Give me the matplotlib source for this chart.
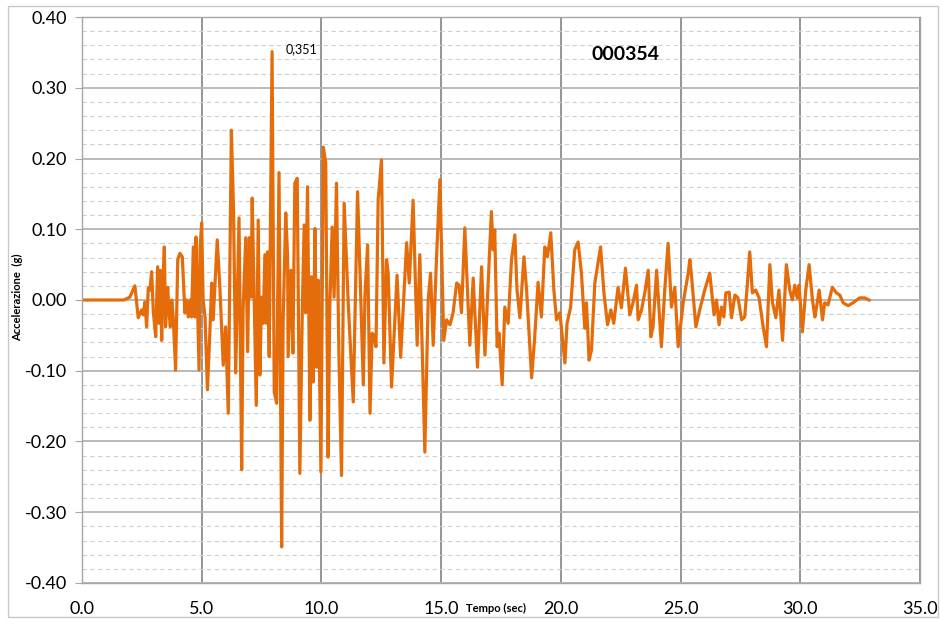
import matplotlib
matplotlib.use("Agg")
import matplotlib.pyplot as plt
from matplotlib.patches import Rectangle
from matplotlib.ticker import MultipleLocator

# accelerogramma 000354 (tempo in s, accelerazione in g)
t = [0.00, 1.75, 2.00, 2.21, 2.35, 2.49, 2.56, 2.63, 2.70, 2.77, 2.84, 2.91, 2.98, 3.08,
     3.16, 3.23, 3.27, 3.33, 3.37, 3.44, 3.49, 3.58, 3.63, 3.69, 3.75, 3.81, 3.91, 4.00,
     4.09, 4.19, 4.30, 4.37, 4.44, 4.52, 4.58, 4.65, 4.72, 4.76, 4.83, 4.89, 4.93, 5.00,
     5.06, 5.14, 5.24, 5.34, 5.42, 5.48, 5.65, 5.76, 5.90, 6.00, 6.11, 6.24, 6.33, 6.42,
     6.56, 6.67, 6.73, 6.84, 6.92, 6.99, 7.06, 7.11, 7.19, 7.28, 7.36, 7.43, 7.50, 7.57,
     7.64, 7.71, 7.75, 7.82, 7.94, 8.03, 8.13, 8.23, 8.34, 8.40, 8.51, 8.59, 8.61, 8.73,
     8.81, 8.89, 8.99, 9.10, 9.20, 9.28, 9.34, 9.42, 9.52, 9.59, 9.66, 9.73, 9.80, 9.87,
     9.98, 10.08, 10.18, 10.28, 10.35, 10.45, 10.53, 10.63, 10.73, 10.84, 10.95, 11.12,
     11.33, 11.51, 11.61, 11.75, 11.82, 11.93, 12.03, 12.12, 12.19, 12.28, 12.37, 12.51,
     12.61, 12.72, 12.79, 12.93, 13.16, 13.31, 13.56, 13.67, 13.83, 14.00, 14.11, 14.32,
     14.46, 14.56, 14.67, 14.81, 14.95, 15.11, 15.23, 15.37, 15.50, 15.65, 15.75, 15.85,
     15.99, 16.20, 16.34, 16.52, 16.69, 16.83, 17.10, 17.17, 17.24, 17.34, 17.42, 17.55,
     17.66, 17.80, 17.94, 18.08, 18.17, 18.29, 18.46, 18.57, 18.78, 18.91, 19.05, 19.19,
     19.33, 19.44, 19.58, 19.71, 19.82, 19.96, 20.17, 20.26, 20.41, 20.58, 20.72, 20.86,
     21.00, 21.07, 21.18, 21.28, 21.42, 21.66, 21.80, 21.95, 22.09, 22.21, 22.39, 22.53,
     22.70, 22.88, 23.02, 23.16, 23.23, 23.37, 23.51, 23.65, 23.76, 23.85, 24.00, 24.20,
     24.34, 24.48, 24.62, 24.76, 24.90, 25.11, 25.32, 25.39, 25.46, 25.64, 25.80, 26.01,
     26.22, 26.40, 26.50, 26.61, 26.71, 26.81, 26.89, 27.03, 27.13, 27.27, 27.40, 27.55,
     27.68, 27.78, 27.89, 28.00, 28.14, 28.28, 28.45, 28.59, 28.73, 28.84, 28.98, 29.11,
     29.26, 29.42, 29.56, 29.67, 29.77, 29.87, 29.95, 30.09, 30.23, 30.37, 30.51, 30.61,
     30.68, 30.79, 30.93, 31.02, 31.16, 31.34, 31.51, 31.65, 31.79, 32.00, 32.20, 32.48,
     32.69, 32.87]
acc = [0.000, 0.000, 0.004, 0.020, -0.025, -0.014, -0.021, -0.003, -0.038, 0.017, 0.014,
       0.040, -0.017, -0.052, 0.047, -0.033, 0.042, -0.057, 0.014, 0.075, -0.038, 0.018,
       -0.014, -0.038, 0.000, -0.024, -0.099, 0.057, 0.066, 0.061, -0.018, 0.000, -0.024,
       0.000, -0.024, 0.075, -0.024, 0.089, -0.014, -0.099, 0.071, 0.109, 0.000, -0.024,
       -0.127, -0.047, 0.024, -0.028, 0.085, 0.018, -0.092, -0.038, -0.160, 0.240, 0.127,
       -0.103, 0.116, -0.240, -0.014, 0.088, -0.073, 0.088, 0.004, 0.144, 0.004, -0.149,
       0.113, -0.106, 0.004, -0.033, 0.064, -0.033, 0.068, -0.080, 0.351, -0.130, -0.146,
       0.180, -0.349, -0.033, 0.123, 0.061, -0.080, 0.042, -0.075, 0.165, 0.172, -0.245,
       -0.018, 0.106, -0.018, 0.160, -0.170, 0.033, -0.116, 0.101, -0.095, 0.028, -0.243,
       0.216, 0.194, -0.222, -0.010, 0.103, 0.004, 0.165, -0.075, -0.248, 0.137, -0.004,
       -0.144, 0.153, 0.042, -0.120, 0.007, 0.078, -0.160, -0.047, -0.050, -0.066, 0.141,
       0.198, -0.089, 0.057, 0.038, -0.123, 0.035, -0.081, 0.081, 0.024, 0.141, -0.064,
       0.064, -0.215, 0.000, 0.038, -0.064, 0.061, 0.170, -0.057, -0.028, -0.035, -0.018,
       0.024, 0.021, -0.018, 0.102, -0.064, 0.031, -0.095, 0.047, -0.078, 0.125, 0.071,
       0.099, -0.066, -0.047, -0.120, -0.010, -0.033, 0.057, 0.092, 0.014, -0.025, 0.061,
       0.014, -0.110, -0.052, 0.025, -0.024, 0.075, 0.061, 0.095, 0.014, -0.028, -0.018,
       -0.089, -0.033, -0.010, 0.071, 0.082, 0.038, -0.040, -0.004, -0.085, -0.071, 0.024,
       0.075, 0.010, -0.035, -0.014, -0.033, 0.018, -0.011, 0.045, -0.021, -0.003, 0.021,
       -0.028, -0.014, 0.011, 0.042, -0.052, -0.038, 0.042, -0.066, 0.014, 0.080, -0.010,
       0.018, -0.066, -0.004, 0.038, 0.057, 0.033, -0.038, -0.014, 0.014, 0.038, -0.021,
       0.000, -0.035, -0.010, -0.024, 0.010, 0.011, -0.025, 0.007, 0.003, -0.028, -0.024,
       0.018, 0.068, 0.010, 0.014, 0.003, -0.038, -0.066, 0.050, -0.004, -0.025, 0.014,
       -0.057, 0.050, 0.014, 0.000, 0.021, 0.003, 0.021, -0.045, 0.014, 0.050, 0.000,
       -0.024, -0.010, 0.014, -0.028, -0.004, -0.007, 0.018, 0.010, 0.007, -0.004, -0.008,
       -0.004, 0.003, 0.003, 0.000]

x_ticks = [0, 5, 10, 15, 20, 25, 30, 35]
y_ticks = [-0.4, -0.3, -0.2, -0.1, 0.0, 0.1, 0.2, 0.3, 0.4]
pga = 0.351
nome = "000354"

plt.rcParams["font.family"] = ["Lato", "DejaVu Sans"]

fig = plt.figure(figsize=(9.4, 6.19), dpi=100)
ax = fig.add_axes([0.0872, 0.0582, 0.8915, 0.9143])

# bordo esterno del grafico
fig.patches.append(Rectangle((0.009, 0.004), 0.989, 0.987, transform=fig.transFigure,
                             fill=False, edgecolor="#C8C8C8", linewidth=1.0))

ax.set_xlim(0, 35)
ax.set_ylim(-0.4, 0.4)
ax.set_xticks(x_ticks)
ax.set_yticks(y_ticks)
ax.set_xticklabels([f"{v:.1f}" for v in x_ticks])
ax.set_yticklabels([f"{v:.2f}" for v in y_ticks])
ax.yaxis.set_minor_locator(MultipleLocator(0.02))

ax.grid(which="minor", axis="y", color="#CFCFCF", linestyle=(0, (4, 3)), linewidth=0.8)
ax.grid(which="major", axis="y", color="#B4B4B4", linestyle="-", linewidth=1.3)
ax.grid(which="major", axis="x", color="#8C8C8C", linestyle="-", linewidth=1.3)
ax.set_axisbelow(True)

for s in ["left", "right", "top", "bottom"]:
    ax.spines[s].set_color("#A6A6A6")
    ax.spines[s].set_linewidth(1.0)

ax.tick_params(axis="y", which="major", length=5, color="#A6A6A6", labelsize=13, pad=6)
ax.tick_params(axis="y", which="minor", length=0)
ax.tick_params(axis="x", length=0, labelsize=13, pad=13)

ax.plot(t, acc, color="#E46C0A", linewidth=2.3, solid_joinstyle="round")

ax.text(8.52, 0.355, f"{pga:.3f}".replace(".", ","), fontsize=9, va="center", ha="left")
ax.text(22.7, 0.347, nome, fontsize=14, fontweight="bold", va="center", ha="center")

ax.text(17.3, -0.0455, "Tempo (sec)", fontsize=8, fontweight="bold", ha="center",
        va="center", transform=ax.get_xaxis_transform())
fig.text(0.019, 0.52, "Accelerazione  (g)", fontsize=8, fontweight="bold",
         rotation=90, ha="center", va="center")

fig.savefig("out.png", dpi=100)
